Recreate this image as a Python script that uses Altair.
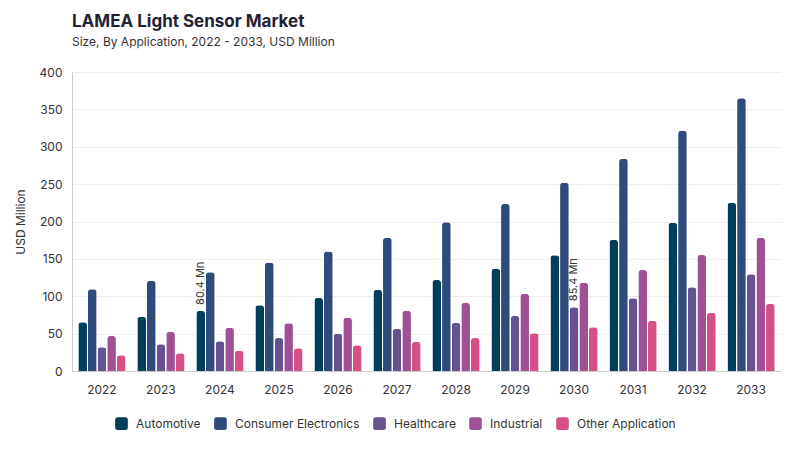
import altair as alt
import pandas as pd

years = ["2022", "2023", "2024", "2025", "2026", "2027", "2028", "2029", "2030", "2031", "2032", "2033"]
apps = ["Automotive", "Consumer Electronics", "Healthcare", "Industrial", "Other Application"]
automotive = [65.1, 72.7, 80.4, 87.9, 97.7, 108.4, 121.7, 136.9, 154.7, 175.3, 198.4, 225.2]
consumer = [109.3, 120.8, 132.0, 145.0, 160.0, 178.4, 198.9, 223.4, 252.0, 284.0, 321.5, 365.0]
healthcare = [31.7, 35.7, 39.7, 44.1, 50.0, 56.2, 64.7, 73.6, 85.4, 97.2, 111.9, 129.3]
industrial = [46.8, 52.2, 58.0, 63.8, 71.4, 80.7, 91.0, 103.5, 118.2, 135.1, 155.2, 178.4]
other = [21.0, 23.6, 27.2, 30.3, 34.3, 38.8, 44.1, 50.4, 58.4, 67.3, 78.0, 90.0]
colors = ["#003f5c", "#2f4b7c", "#665191", "#a05195", "#d45087"]
y_ticks = [0, 50, 100, 150, 200, 250, 300, 350, 400]

label_years = ["2024", "2030"]
label_apps = ["Automotive", "Healthcare"]
label_values = [80.4, 85.4]
label_texts = ["80.4 Mn", "85.4 Mn"]

series = [automotive, consumer, healthcare, industrial, other]
rows = []
for app, vals in zip(apps, series):
    for y, v in zip(years, vals):
        rows.append({"Year": y, "Application": app, "Value": v})
df = pd.DataFrame(rows)
lab = pd.DataFrame({"Year": label_years, "Application": label_apps,
                    "Value": label_values, "Label": label_texts})

FONT = "Inter"
rsq = "M-0.6,-1H0.6Q1,-1 1,-0.6V0.6Q1,1 0.6,1H-0.6Q-1,1 -1,0.6V-0.6Q-1,-1 -0.6,-1Z"

x = alt.X("Year:N", sort=years, title=None,
          scale=alt.Scale(paddingInner=0.2, paddingOuter=0.107),
          axis=alt.Axis(labelAngle=0, ticks=False, labelPadding=13, labelFontSize=12,
                        labelColor="#333333", domainColor="#cccccc", labelFont=FONT))
xo = alt.XOffset("Application:N", sort=apps, scale=alt.Scale(paddingInner=0.1))
y = alt.Y("Value:Q", scale=alt.Scale(domain=[0, 400]), title="USD Million",
          axis=alt.Axis(values=y_ticks, labelOverlap=False, ticks=False,
                        gridColor="#eeeeee", domainColor="#cccccc", labelFontSize=12,
                        labelColor="#333333", labelPadding=10, titleFontSize=12,
                        titleFontWeight="normal", titleColor="#333333", titlePadding=12,
                        labelFont=FONT, titleFont=FONT))

bars = alt.Chart(df).mark_bar(cornerRadiusTopLeft=3, cornerRadiusTopRight=3).encode(
    x=x,
    xOffset=xo,
    y=y,
    color=alt.Color("Application:N", sort=apps,
                    scale=alt.Scale(domain=apps, range=colors),
                    legend=alt.Legend(orient="none", legendX=43, legendY=345,
                                      title=None, direction="horizontal",
                                      symbolType=rsq, symbolSize=160, symbolStrokeWidth=0,
                                      labelFontSize=12, labelColor="#333333", labelFont=FONT,
                                      columnPadding=13, labelOffset=8, symbolOpacity=1)),
)

texts = alt.Chart(lab).mark_text(angle=270, align="left", baseline="middle", dx=6,
                                 fontSize=11, color="#333333", font=FONT).encode(
    x=x,
    xOffset=xo,
    y=y,
    text="Label:N",
)

chart = alt.layer(bars, texts).properties(
    width=709, height=299,
    padding={"left": 6, "top": 5, "right": 5, "bottom": 5},
    title=alt.TitleParams(text="LAMEA Light Sensor Market",
                          subtitle="Size, By Application, 2022 - 2033, USD Million",
                          anchor="start", frame="group", fontSize=17, fontWeight="bold",
                          font=FONT, subtitleFont=FONT, subtitleFontSize=12,
                          color="#1f2233", subtitleColor="#333333", offset=17,
                          subtitlePadding=6),
).configure_view(stroke=None)

chart.save("out.html", embed_options={"renderer": "svg", "actions": False})
